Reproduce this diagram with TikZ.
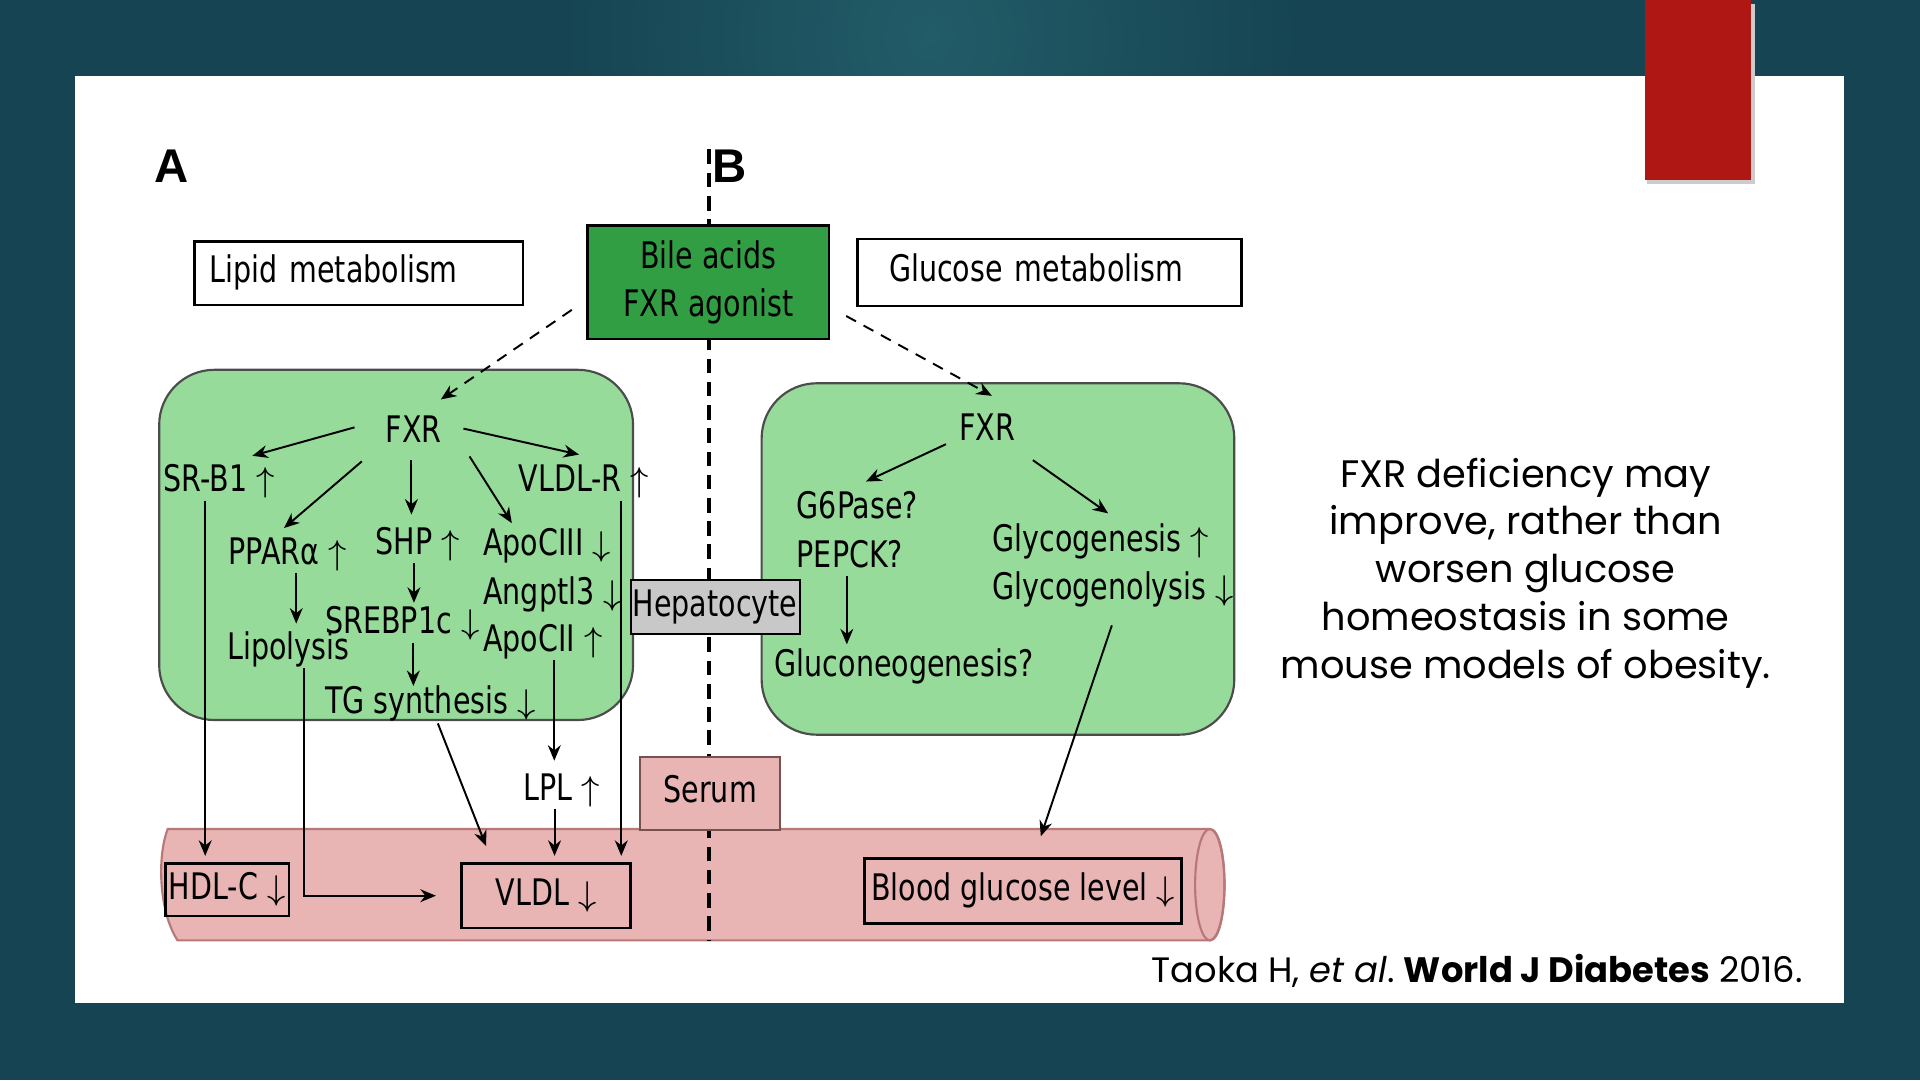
\documentclass[tikz,border=0pt]{standalone}
\usepackage{fontspec}
\usepackage{tikz}
\usetikzlibrary{positioning, arrows.meta, calc}
\newfontfamily\figfont{DejaVu Sans}[FakeStretch=0.78]
\newfontfamily\slidefont{Poppins}
\newfontfamily\panelfont{Liberation Sans}
\definecolor{bgTeal}{RGB}{22,68,82}
\definecolor{bgGlow}{RGB}{34,92,104}
\definecolor{slideRed}{RGB}{175,23,20}
\definecolor{cellGreen}{RGB}{150,219,154}
\definecolor{bileGreen}{RGB}{50,158,68}
\definecolor{vesselPink}{RGB}{232,180,180}
\definecolor{vesselEdge}{RGB}{185,120,120}
\definecolor{serumEdge}{RGB}{120,80,80}
\definecolor{hepGray}{RGB}{200,200,200}
\newcommand{\upar}{$\uparrow$}
\newcommand{\dnar}{$\downarrow$}

\begin{document}
\begin{tikzpicture}[x=0.1mm, y=-0.1mm,
  base/.style={font=\figfont\fontsize{8.5}{11}\selectfont, inner sep=0pt},
  txt/.style={base, text height=6.2pt, text depth=1.8pt},
  box/.style={txt, draw=black, line width=0.6pt},
  arr/.style={-{Stealth[length=3.6pt, width=3pt]}, line width=0.45pt},
  darr/.style={arr, dash pattern=on 2.6pt off 2pt},
  cell/.style={draw=black!70, line width=0.5pt, fill=cellGreen, rounded corners=4.5mm},
]
  % slide
  \useasboundingbox (0,0) rectangle (1568,882);
  \fill[bgTeal] (0,0) rectangle (1568,882);
  \shade[inner color=bgGlow, outer color=bgTeal] (760,30) circle (30mm);
  \fill[white] (61,62) rectangle (1506,819);
  \fill[black!20] (1345,3) rectangle (1433,150);
  \fill[slideRed] (1343,0) rectangle (1430,147);

  % cells and vessel
  \draw[cell] (130,302) rectangle (517,588);
  \draw[cell] (622,313) rectangle (1008,600);
  \draw[fill=vesselPink, draw=vesselEdge, line width=0.5pt]
    (145,768) .. controls (130,745) and (128,700) .. (137,677) -- (988,677)
    .. controls (1004,677) and (1004,768) .. (988,768) -- cycle;
  \draw[vesselEdge, line width=0.5pt] (988,722.5) ellipse [x radius=1.2mm, y radius=4.55mm];

  % divider
  \coordinate (divTop) at (579,122);
  \coordinate (divBot) at (579,768);
  \draw[line width=0.8pt, dash pattern=on 3.4pt off 2pt] (divTop) -- (divBot);

  \node[font=\panelfont\bfseries\fontsize{11}{13}\selectfont] (labA) at (140,136) {A};
  \node[font=\panelfont\bfseries\fontsize{11}{13}\selectfont] (labB) at (596,136) {B};

  % boxes
  \node[box, anchor=north west, minimum height=5.2mm, inner xsep=1.2mm,
        text width=24.4mm, align=left] (lipid) at (158,196) {Lipid metabolism};
  \node[box, anchor=north west, minimum height=5.5mm, inner xsep=2.6mm,
        text width=26.2mm, align=left] (glucose) at (699,194) {Glucose metabolism};
  \node[base, draw=black, line width=0.6pt, fill=bileGreen, minimum width=19.7mm,
        minimum height=9.3mm, align=center] (bile) at (578.5,230.5) {Bile acids\\FXR agonist};
  \node[box, fill=hepGray, line width=0.5pt, minimum width=13.8mm,
        minimum height=4.4mm] (hep) at (584,496) {Hepatocyte};
  \node[box, fill=vesselPink, draw=serumEdge, line width=0.5pt, minimum width=11.4mm,
        minimum height=6mm] (serum) at (580,648) {Serum};
  \node[box, minimum width=10.1mm, minimum height=4.3mm] (hdlc) at (185.5,726.5) {HDL-C \dnar};
  \node[box, minimum width=13.8mm, minimum height=5.3mm] (vldl) at (446,731.5) {VLDL \dnar};
  \node[box, minimum width=25.9mm, minimum height=5.3mm] (bgl) at (835.5,727.5) {Blood glucose level \dnar};

  % lipid side
  \node[txt] (fxrA) at (338,354) {FXR};
  \node[txt, anchor=west] (srb) at (133,394) {SR-B1 \upar};
  \node[txt, anchor=west] (vldlr) at (423,394) {VLDL-R \upar};
  \node[txt, anchor=west] (ppar) at (186,453) {PPARα \upar};
  \node[txt, anchor=west] (shp) at (306,445) {SHP \upar};
  \node[txt, anchor=west] (apoc3) at (394,446) {ApoCIII \dnar};
  \node[txt, anchor=west] (angp) at (394,486) {Angptl3 \dnar};
  \node[txt, anchor=west] (apoc2) at (394,524) {ApoCII \upar};
  \node[txt, anchor=west] (srebp) at (265,510) {SREBP1c \dnar};
  \node[txt, anchor=west] (lipo) at (185,531) {Lipolysis};
  \node[txt, anchor=west] (tg) at (265,575) {TG synthesis \dnar};
  \node[txt, anchor=west] (lpl) at (427,646) {LPL \upar};

  % glucose side
  \node[txt] (fxrB) at (806,352) {FXR};
  \node[txt, anchor=west] (g6p) at (650,416) {G6Pase?};
  \node[txt, anchor=west] (pepck) at (650,456) {PEPCK?};
  \node[txt, anchor=west] (glyc1) at (810,443) {Glycogenesis \upar};
  \node[txt, anchor=west] (glyc2) at (810,482) {Glycogenolysis \dnar};
  \node[txt, anchor=west] (gluco) at (632,545) {Gluconeogenesis?};

  % slide text
  \node[font=\slidefont\fontsize{8.9}{11.1}\selectfont, align=center] (note) at (1246,468)
    {FXR deficiency may\\improve, rather than\\worsen glucose\\homeostasis in some\\mouse models of obesity.};
  \node[font=\slidefont\fontsize{8.2}{10}\selectfont, anchor=east, inner sep=0pt] (cite) at (1473,793)
    {Taoka H, \textit{et al}.\ \textbf{World J Diabetes} 2016.};

  % agonist
  \draw[darr] ([shift={(-12,-25)}]bile.south west) -- ([shift={(22,-13)}]fxrA.north);
  \draw[darr] ([shift={(13,-20)}]bile.south east) -- ([shift={(4,-14)}]fxrB.north);

  % lipid arrows
  \draw[arr] ([shift={(-25,-5)}]fxrA.west) -- ([shift={(27,-7)}]srb.north);
  \draw[arr] ([shift={(17,-4)}]fxrA.east) -- ([shift={(-4,-8)}]vldlr.north);
  \draw[arr] ([shift={(-19,8)}]fxrA.south west) -- ([shift={(-3,-7)}]ppar.north);
  \draw[arr, shorten <=0.7mm, shorten >=1mm] ([xshift=-0.2mm]fxrA.south) -- ([xshift=-0.2mm]fxrA.south |- shp.north);
  \draw[arr] ([shift={(22,4)}]fxrA.south east) -- ([shift={(24,-4)}]apoc3.north west);
  \draw[arr, shorten >=0.7mm] ([xshift=0.7mm]ppar.south) -- ([xshift=0.7mm]ppar.south |- lipo.north);
  \draw[arr, shorten >=0.3mm] ([xshift=-0.3mm]shp.south) -- ([xshift=-0.3mm]shp.south |- srebp.north);
  \draw[arr] ([xshift=0.9mm]srebp.south) -- ([xshift=0.9mm]srebp.south |- tg.north);
  \draw[arr, shorten >=0.5mm] ([xshift=-1.15mm]srb.south) -- ([xshift=-1.15mm]srb.south |- hdlc.north);
  \draw[arr] ([xshift=1.25mm]lipo.south) |- ([xshift=-2mm]vldl.west);
  \draw[arr] ([shift={(6,1)}]tg.south) -- ([shift={(21,-13)}]vldl.north west);
  \draw[arr, shorten >=1mm] ([xshift=0.93mm]apoc2.south) -- ([xshift=0.93mm]apoc2.south |- lpl.north);
  \draw[arr, shorten >=0.5mm] ([xshift=-0.6mm]lpl.south) -- ([xshift=-0.6mm]lpl.south |- vldl.north);
  \draw[arr, shorten >=0.5mm] ([xshift=3.05mm]vldlr.south) -- ([xshift=3.05mm]vldlr.south |- vldl.north);

  % glucose arrows
  \draw[arr] ([shift={(-10,-4)}]fxrB.south west) -- ([shift={(7,-8)}]g6p.north);
  \draw[arr] ([shift={(14,9)}]fxrB.south east) -- ([shift={(95,-9)}]glyc1.north west);
  \draw[arr, shorten >=0.4mm] ([xshift=-0.25mm]pepck.south) -- ([xshift=-0.25mm]pepck.south |- gluco.north);
  \draw[arr] ([shift={(98,14)}]glyc2.south west) -- ([shift={(14.5,-17)}]bgl.north);
\end{tikzpicture}
\end{document}
